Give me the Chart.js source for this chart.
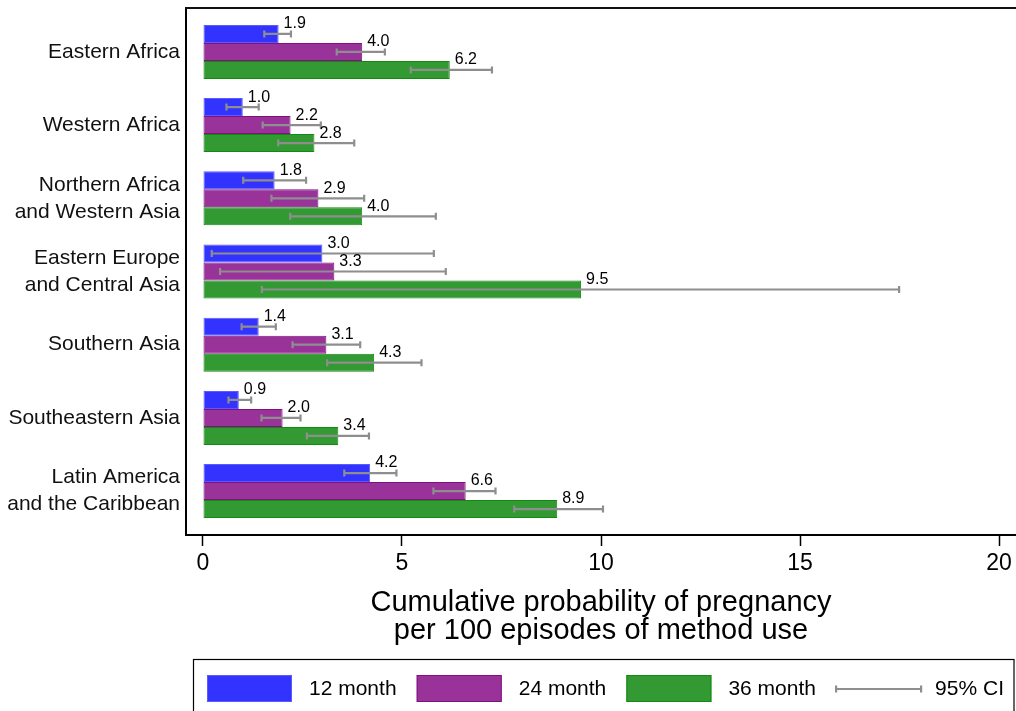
<!DOCTYPE html>
<html>
<head>
<meta charset="utf-8">
<script src="https://cdn.jsdelivr.net/npm/chart.js@4.4.1/dist/chart.umd.min.js"></script>
<style>
  html, body { margin: 0; padding: 0; background: #fff; }
  #wrap { width: 1016px; height: 711px; position: relative; }
</style>
</head>
<body>
<div id="wrap"><canvas id="chart"></canvas></div>
<script>
// Regions (category axis, top to bottom)
const regions = [
  'Eastern Africa',
  'Western Africa',
  ['Northern Africa', 'and Western Asia'],
  ['Eastern Europe', 'and Central Asia'],
  'Southern Asia',
  'Southeastern Asia',
  ['Latin America', 'and the Caribbean']
];

// Cumulative probability of pregnancy per 100 episodes
const month12 = [1.9, 1.0, 1.8, 3.0, 1.4, 0.9, 4.2];
const month24 = [4.0, 2.2, 2.9, 3.3, 3.1, 2.0, 6.6];
const month36 = [6.2, 2.8, 4.0, 9.5, 4.3, 3.4, 8.9];

// 95% confidence intervals
const month12Lo = [1.54, 0.59, 1.01, 0.22, 0.97, 0.64, 3.55];
const month12Hi = [2.21, 1.40, 2.59, 5.80, 1.83, 1.21, 4.86];
const month24Lo = [3.36, 1.50, 1.72, 0.43, 2.25, 1.47, 5.79];
const month24Hi = [4.57, 2.96, 4.05, 6.10, 3.95, 2.45, 7.35];
const month36Lo = [5.22, 1.89, 2.19, 1.48, 3.12, 2.61, 7.82];
const month36Hi = [7.26, 3.80, 5.85, 17.49, 5.49, 4.17, 10.05];

const seriesNames = ['12 month', '24 month', '36 month'];
const xTicks = [0, 5, 10, 15, 20];
const xTitle = ['Cumulative probability of pregnancy', 'per 100 episodes of method use'];
const ciLabel = '95% CI';

const FONT = '"Liberation Sans", Arial, Helvetica, sans-serif';
const CI_COLOR = '#8e8e8e';
Chart.defaults.font.family = FONT;
Chart.defaults.color = '#000';

const toPoints = arr => arr.map((v, i) => ({ x: v, y: i }));

const styles = [
  { bg: '#3333ff', border: '#5a5aff' },
  { bg: '#993399', border: '#80107f' },
  { bg: '#339933', border: '#108a10' }
];

const datasets = [
  { label: seriesNames[0], data: toPoints(month12), lo: month12Lo, hi: month12Hi },
  { label: seriesNames[1], data: toPoints(month24), lo: month24Lo, hi: month24Hi },
  { label: seriesNames[2], data: toPoints(month36), lo: month36Lo, hi: month36Hi }
].map((d, i) => Object.assign(d, {
  backgroundColor: styles[i].bg,
  borderColor: styles[i].border,
  borderWidth: 1,
  borderSkipped: false,
  categoryPercentage: 0.738,
  barPercentage: 1
}));

// Confidence interval whiskers and value labels on every bar
const barMarks = {
  id: 'barMarks',
  afterDatasetsDraw(chart) {
    const { ctx } = chart;
    const xs = chart.scales.x;
    chart.data.datasets.forEach((ds, di) => {
      const meta = chart.getDatasetMeta(di);
      meta.data.forEach((bar, i) => {
        const y = bar.y;
        const x0 = xs.getPixelForValue(ds.lo[i]);
        const x1 = xs.getPixelForValue(ds.hi[i]);
        ctx.save();
        ctx.strokeStyle = CI_COLOR;
        ctx.lineWidth = 2.2;
        ctx.beginPath();
        ctx.moveTo(x0, y); ctx.lineTo(x1, y);
        ctx.moveTo(x0, y - 3.5); ctx.lineTo(x0, y + 3.5);
        ctx.moveTo(x1, y - 3.5); ctx.lineTo(x1, y + 3.5);
        ctx.stroke();
        ctx.restore();
      });
    });
    chart.data.datasets.forEach((ds, di) => {
      const meta = chart.getDatasetMeta(di);
      meta.data.forEach((bar, i) => {
        const top = bar.y - bar.height / 2;
        ctx.save();
        ctx.fillStyle = '#000';
        ctx.font = '16px ' + FONT;
        ctx.textAlign = 'left';
        ctx.textBaseline = 'middle';
        ctx.fillText(ds.data[i].x.toFixed(1), bar.x + 5, top - 1);
        ctx.restore();
      });
    });
  }
};

// Plot frame top edge and the boxed legend underneath the axis title
const frameAndLegend = {
  id: 'frameAndLegend',
  afterDraw(chart) {
    const { ctx, chartArea } = chart;
    ctx.save();
    ctx.strokeStyle = '#111';
    ctx.lineWidth = 2;
    ctx.beginPath();
    ctx.moveTo(chartArea.left - 1, chartArea.top);
    ctx.lineTo(chart.width, chartArea.top);
    ctx.stroke();

    // legend box
    ctx.strokeStyle = '#000';
    ctx.lineWidth = 1.2;
    ctx.strokeRect(193.5, 659.5, 820.5, 60);

    const sy = 675, sh = 27, sw = 85, pitch = 209.7, x0 = 207, ty = 689;
    ctx.font = '21px ' + FONT;
    ctx.textBaseline = 'middle';
    ctx.textAlign = 'left';
    chart.data.datasets.forEach((ds, i) => {
      const sx = x0 + i * pitch;
      ctx.fillStyle = ds.backgroundColor;
      ctx.fillRect(sx, sy, sw, sh);
      ctx.strokeStyle = ds.borderColor;
      ctx.lineWidth = 1;
      ctx.strokeRect(sx + 0.5, sy + 0.5, sw - 1, sh - 1);
      ctx.fillStyle = '#000';
      ctx.fillText(ds.label, sx + sw + 17, ty);
    });
    const cx = x0 + 3 * pitch;
    ctx.strokeStyle = CI_COLOR;
    ctx.lineWidth = 2.2;
    ctx.beginPath();
    ctx.moveTo(cx, ty); ctx.lineTo(cx + sw, ty);
    ctx.moveTo(cx, ty - 3.5); ctx.lineTo(cx, ty + 3.5);
    ctx.moveTo(cx + sw, ty - 3.5); ctx.lineTo(cx + sw, ty + 3.5);
    ctx.stroke();
    ctx.fillStyle = '#000';
    ctx.fillText(ciLabel, cx + sw + 14, ty);
    ctx.restore();
  }
};

new Chart(document.getElementById('chart'), {
  type: 'bar',
  data: { datasets },
  plugins: [barMarks, frameAndLegend],
  options: {
    indexAxis: 'y',
    responsive: true,
    maintainAspectRatio: false,
    animation: false,
    devicePixelRatio: 1,
    layout: { padding: { top: 8, right: 0, bottom: 0, left: 0 } },
    plugins: {
      legend: { display: false },
      tooltip: { enabled: false }
    },
    scales: {
      x: {
        type: 'linear',
        position: 'bottom',
        min: -0.427,
        max: 20.427,
        afterBuildTicks: s => { s.ticks = xTicks.map(v => ({ value: v })); },
        afterFit: s => { s.height = 176; s.paddingLeft = 0; s.paddingRight = 0; },
        grid: {
          drawOnChartArea: false,
          drawTicks: true,
          tickLength: 11,
          tickWidth: 1.5,
          tickColor: '#000'
        },
        border: { display: true, color: '#000', width: 2 },
        ticks: {
          font: { size: 23 },
          color: '#000',
          padding: 4,
          maxRotation: 0,
          autoSkip: false
        },
        title: {
          display: true,
          text: xTitle,
          color: '#000',
          font: { size: 29, lineHeight: 28 / 29 },
          padding: { top: 0, bottom: 66 }
        }
      },
      y: {
        type: 'linear',
        offset: false,
        min: -0.6,
        max: 6.6,
        reverse: true,
        afterBuildTicks: s => { s.ticks = regions.map((_, i) => ({ value: i })); },
        afterFit: s => { s.width = 186; s.paddingTop = 0; s.paddingBottom = 0; },
        grid: { display: false, drawOnChartArea: false, drawTicks: false, offset: false },
        border: { display: true, color: '#000', width: 2 },
        ticks: {
          font: { size: 21, lineHeight: 27 / 21 },
          color: '#111',
          padding: 6,
          autoSkip: false,
          callback: v => regions[v]
        }
      }
    }
  }
});
</script>
</body>
</html>
